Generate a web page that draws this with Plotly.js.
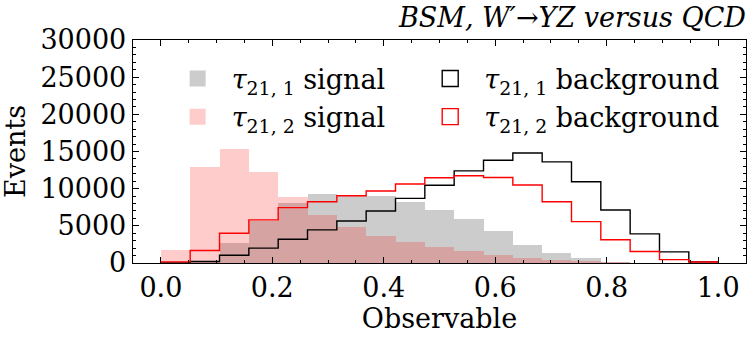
<!DOCTYPE html>
<html>
<head>
<meta charset="utf-8">
<script src="https://cdn.plot.ly/plotly-3.0.1.min.js"></script>
<style>
  html, body { margin: 0; padding: 0; background: #fff; }
  #chart { width: 756px; height: 337px; }
</style>
</head>
<body>
<div id="chart"></div>
<script>
// 19 equal bins between 0 and 1
const BIN_LO = 0;
const BIN_HI = 1;
const N_BINS = 19;

// counts per bin
const sig1 = [0, 300, 2750, 5700, 8050, 9250, 9050, 9050, 8170, 7140, 5900, 4280, 2450, 1340, 650, 200, 30, 0, 0];
const sig2 = [1700, 12850, 15400, 12250, 8900, 6470, 4900, 3660, 2850, 2140, 1550, 1110, 670, 440, 300, 150, 60, 40, 30];
const bkg1 = [0, 200, 1050, 2000, 3200, 4460, 5660, 7000, 8700, 10450, 12400, 13830, 14800, 13600, 10930, 7140, 3920, 1490, 150];
const bkg2 = [150, 1680, 4000, 5800, 7450, 8250, 9050, 9680, 10620, 11470, 11730, 11500, 10490, 8250, 5570, 3120, 1550, 460, 130];

const xTicks = [0, 0.2, 0.4, 0.6, 0.8, 1.0];
const yTicks = [0, 5000, 10000, 15000, 20000, 25000, 30000];

const FONT = "DejaVu Serif";

// Helper: linspace
function linspace(start, end, N) {
  const arr = [];
  for (let i = 0; i < N; i++) arr.push(start + (end - start) * i / (N - 1));
  return arr;
}

const edges = linspace(BIN_LO, BIN_HI, N_BINS + 1);
const centers = edges.slice(0, -1).map((e, i) => (e + edges[i + 1]) / 2);
const binWidth = edges[1] - edges[0];

// step outline like histtype='step'
function stepTrace(counts, color) {
  const x = [edges[0]].concat(edges, [edges[edges.length - 1]]);
  const y = [0].concat(counts, [counts[counts.length - 1], 0]);
  return {
    x: x, y: y, type: "scatter", mode: "lines",
    line: { shape: "hv", color: color, width: 1.4 },
    showlegend: false, hoverinfo: "skip"
  };
}

function barTrace(counts, color) {
  return {
    x: centers, y: counts, type: "bar", width: binWidth,
    marker: { color: color, line: { width: 0 } },
    showlegend: false
  };
}

// legend-only square markers
function legendSquare(symbol, fill, edge, name, legend) {
  return {
    x: [null], y: [null], type: "scatter", mode: "markers",
    marker: { symbol: symbol, size: 16, color: fill, line: { color: edge, width: symbol === "square" ? 0 : 1.4 } },
    name: name, legend: legend
  };
}

const tau = (k) => "<i>τ</i><sub>21, " + k + "</sub>";

const GRAY = "rgba(128,128,128,0.4)";
const PINK = "rgba(255,0,0,0.2)";

const traces = [
  barTrace(sig1, GRAY),
  barTrace(sig2, PINK),
  stepTrace(bkg1, "#000000"),
  stepTrace(bkg2, "#ff0000"),
  legendSquare("square", GRAY, GRAY, tau(1) + " signal", "legend"),
  legendSquare("square", PINK, PINK, tau(2) + " signal", "legend"),
  legendSquare("square-open", "#000000", "#000000", tau(1) + " background", "legend2"),
  legendSquare("square-open", "#ff0000", "#ff0000", tau(2) + " background", "legend2")
];

const axisCommon = {
  showline: true, linecolor: "#000", linewidth: 1.3, mirror: "allticks",
  ticks: "inside", ticklen: 6, tickwidth: 1, tickcolor: "#000",
  showgrid: false, zeroline: false,
  tickfont: { family: FONT, size: 27, color: "#000" }
};

const legendCommon = {
  orientation: "v", y: 0.935, xanchor: "left", yanchor: "top",
  bgcolor: "rgba(0,0,0,0)", borderwidth: 0, itemwidth: 58,
  font: { family: FONT, size: 27, color: "#000" },
  traceorder: "normal"
};

const layout = {
  width: 756, height: 337,
  margin: { l: 133, r: 10, t: 40, b: 74 },
  paper_bgcolor: "#fff", plot_bgcolor: "#fff",
  barmode: "overlay", bargap: 0,
  font: { family: FONT, color: "#000" },
  title: {
    text: "<i>BSM, W′→YZ versus QCD</i>",
    font: { family: FONT, size: 27, color: "#000" },
    x: 1, xref: "paper", xanchor: "right",
    y: 0.975, yref: "container", yanchor: "top"
  },
  xaxis: Object.assign({}, axisCommon, {
    range: [-0.05, 1.05], tickvals: xTicks, tickformat: ".1f",
    minor: { dtick: 0.05, tick0: 0, ticks: "inside", ticklen: 3, tickcolor: "#000" },
    title: { text: "Observable", font: { family: FONT, size: 27, color: "#000" }, standoff: 5 }
  }),
  yaxis: Object.assign({}, axisCommon, {
    range: [0, 30000], tickvals: yTicks, tickformat: "d",
    minor: { dtick: 1000, tick0: 0, ticks: "inside", ticklen: 3, tickcolor: "#000" },
    title: { text: "Events", font: { family: FONT, size: 27, color: "#000" }, standoff: 7 }
  }),
  legend: Object.assign({}, legendCommon, { x: 0.05 }),
  legend2: Object.assign({}, legendCommon, { x: 0.462 })
};

Plotly.newPlot("chart", traces, layout, { displayModeBar: false, staticPlot: true });
</script>
</body>
</html>
